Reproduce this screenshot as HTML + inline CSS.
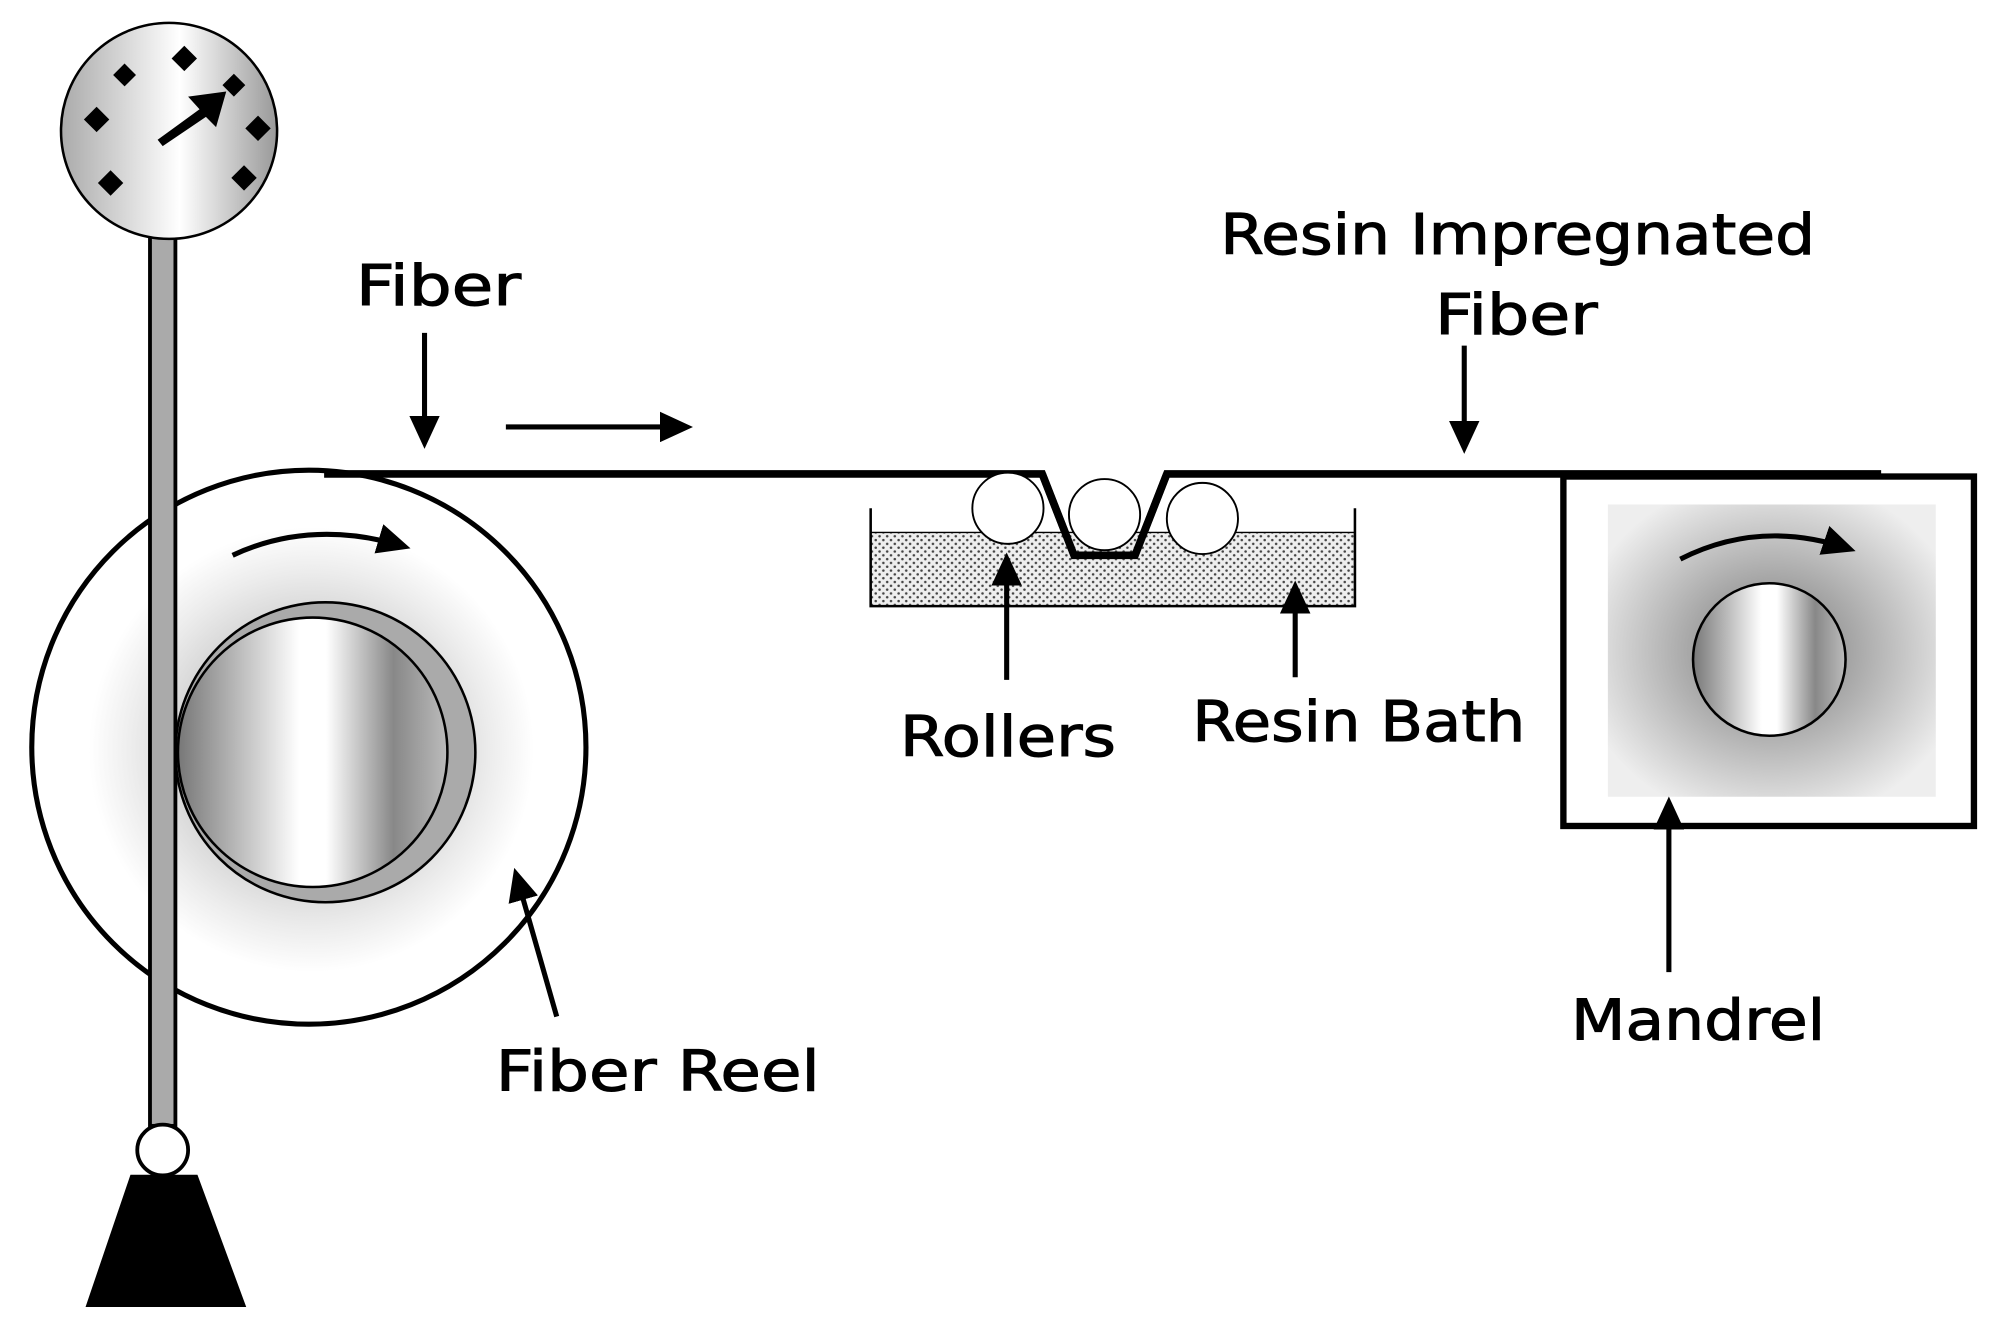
<!DOCTYPE html>
<html><head><meta charset="utf-8"><style>html,body{margin:0;padding:0;background:#fff}svg{display:block}</style></head>
<body>
<svg width="1993" height="1333" viewBox="0 0 1568 1049" preserveAspectRatio="none" xmlns="http://www.w3.org/2000/svg">
<defs>
<linearGradient id="hub" x1="0" x2="1" y1="0" y2="0">
<stop offset="0" stop-color="#777"/><stop offset="0.45" stop-color="#fff"/><stop offset="0.55" stop-color="#fff"/><stop offset="0.8" stop-color="#888"/><stop offset="1" stop-color="#bbb"/></linearGradient>
<linearGradient id="gauge" x1="0" x2="1"><stop offset="0" stop-color="#aaa"/><stop offset="0.55" stop-color="#fff"/><stop offset="1" stop-color="#999"/></linearGradient>
<radialGradient id="reel" cx="0.5" cy="0.5" r="0.5"><stop offset="0.5" stop-color="#ccc"/><stop offset="0.8" stop-color="#ececec"/><stop offset="1" stop-color="#fff"/></radialGradient>
<radialGradient id="box" cx="0.5" cy="0.5" r="0.6"><stop offset="0.3" stop-color="#999"/><stop offset="1" stop-color="#eee"/></radialGradient>
<pattern id="dots" width="6" height="6" patternUnits="userSpaceOnUse"><rect width="6" height="6" fill="#eee"/><circle cx="2" cy="2" r="1" fill="#444"/><circle cx="5" cy="5" r="1" fill="#444"/></pattern>
<marker id="ah" markerWidth="26" markerHeight="24" refX="8" refY="5" orient="auto" markerUnits="userSpaceOnUse" viewBox="0 0 10 10" preserveAspectRatio="none"><path d="M0,0L10,5L0,10z"/></marker>
</defs>
<g fill="none" stroke="#000">
<circle cx="243" cy="588" r="218" fill="#fff" stroke-width="4"/>
<circle cx="245" cy="590" r="175" fill="url(#reel)" stroke="none"/>
<circle cx="256" cy="592" r="118" fill="#aaa" stroke-width="2"/>
<circle cx="246" cy="592" r="106" fill="url(#hub)" stroke-width="2"/>
<rect x="118" y="186" width="20" height="700" fill="#aaa" stroke-width="3"/>
<circle cx="128" cy="905" r="20" fill="#fff" stroke-width="3"/>
<path d="M103,925 L155,925 L193,1028 L68,1028 Z" fill="#000"/>
<circle cx="133" cy="103" r="85" fill="url(#gauge)" stroke-width="2"/>
<g fill="#000" stroke="none">
<path d="M145,36l10,10l-10,10l-10,-10z"/><path d="M98,50l9,9l-9,9l-9,-9z"/><path d="M184,58l9,9l-9,9l-9,-9z"/>
<path d="M76,84l10,10l-10,10l-10,-10z"/><path d="M203,91l10,10l-10,10l-10,-10z"/><path d="M87,134l10,10l-10,10l-10,-10z"/><path d="M192,130l10,10l-10,10l-10,-10z"/>
<path d="M148,76 L178,72 L170,100 L162,92 L128,115 L124,110 L157,86z"/>
</g>
<path d="M255,373 L820,373 L845,437 L893,437 L918,373 L1480,373" stroke-width="6"/>
<rect x="685" y="419" width="381" height="58" fill="url(#dots)" stroke="none"/>
<path d="M685,400 L685,477 L1066,477 L1066,400" stroke-width="2"/>
<line x1="685" y1="419" x2="1066" y2="419" stroke-width="1"/>
<circle cx="793" cy="400" r="28" fill="#fff" stroke-width="1.5"/>
<circle cx="869" cy="405" r="28" fill="#fff" stroke-width="1.5"/>
<circle cx="946" cy="408" r="28" fill="#fff" stroke-width="1.5"/>
<path d="M820,373 L845,437 L893,437 L918,373" stroke-width="6"/>
<rect x="1230" y="375" width="323" height="275" fill="#fff" stroke-width="5"/>
<rect x="1265" y="397" width="258" height="230" fill="url(#box)" stroke="none"/>
<circle cx="1392" cy="519" r="60" fill="url(#hub)" stroke-width="2"/>
<g stroke-width="4" marker-end="url(#ah)">
<line x1="334" y1="262" x2="334" y2="348"/>
<line x1="398" y1="336" x2="540" y2="336"/>
<line x1="1152" y1="272" x2="1152" y2="352"/>
<line x1="792" y1="535" x2="792" y2="440"/>
<line x1="1019" y1="533" x2="1019" y2="462"/>
<line x1="1313" y1="765" x2="1313" y2="632"/>
<line x1="438" y1="800" x2="406" y2="688"/>
<path d="M183,437 Q245,408 318,430"/>
<path d="M1322,440 Q1385,408 1455,432"/>
</g>
</g>
<g font-family="DejaVu Sans, Liberation Sans, sans-serif" font-size="44" fill="#000" stroke="#000" stroke-width="0.8">
<text x="280" y="240" textLength="130" lengthAdjust="spacingAndGlyphs">Fiber</text>
<text x="960" y="200" textLength="468" lengthAdjust="spacingAndGlyphs">Resin Impregnated</text>
<text x="1129" y="263" textLength="128" lengthAdjust="spacingAndGlyphs">Fiber</text>
<text x="708" y="595" textLength="170" lengthAdjust="spacingAndGlyphs">Rollers</text>
<text x="938" y="583" textLength="262" lengthAdjust="spacingAndGlyphs">Resin Bath</text>
<text x="1236" y="818" textLength="200" lengthAdjust="spacingAndGlyphs">Mandrel</text>
<text x="390" y="858" textLength="255" lengthAdjust="spacingAndGlyphs">Fiber Reel</text>
</g>
</svg>
</body></html>
